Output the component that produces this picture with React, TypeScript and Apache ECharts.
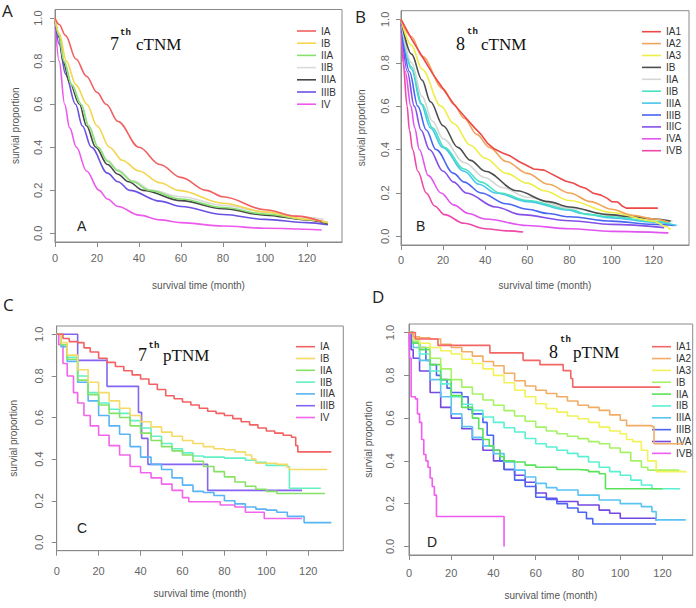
import React, { useEffect, useRef } from "react";
import * as echarts from "echarts";

type Pt = [number, number];

// ---------- shared ticks ----------
const xTicks = [0, 20, 40, 60, 80, 100, 120];
const yTicks = [0, 0.2, 0.4, 0.6, 0.8, 1.0];
const xAxisTitle = "survival time (month)";
const yAxisTitle = "survial proportion";

// ---------- Panel A: 7th cTNM ----------
const namesA = ["IA", "IB", "IIA", "IIB", "IIIA", "IIIB", "IV"];
const A_IA: Pt[] = [[0, 1], [2, 0.97], [5, 0.92], [10, 0.81], [15, 0.73], [20, 0.655], [24.4, 0.6], [30, 0.52], [40, 0.4], [50, 0.32], [60, 0.26], [72, 0.2], [80, 0.17], [100, 0.11], [115, 0.08], [127, 0.055]];
const A_IB: Pt[] = [[0, 1], [2, 0.93], [5.4, 0.8], [10, 0.69], [15.2, 0.6], [20, 0.5], [26, 0.4], [32, 0.34], [40, 0.29], [50, 0.235], [59, 0.2], [80, 0.14], [100, 0.1], [120, 0.065], [130, 0.05]];
const A_IIA: Pt[] = [[0, 1], [2, 0.92], [4.3, 0.8], [8, 0.69], [12.5, 0.6], [16, 0.5], [20.5, 0.4], [25, 0.335], [30, 0.29], [37, 0.24], [45, 0.2], [60, 0.16], [80, 0.12], [100, 0.09], [120, 0.065], [130, 0.05]];
const A_IIB: Pt[] = [[0, 1], [2, 0.92], [4.3, 0.8], [8, 0.69], [12.3, 0.6], [16, 0.5], [20.5, 0.4], [25, 0.34], [30, 0.295], [37, 0.245], [46, 0.2], [60, 0.17], [80, 0.13], [100, 0.1], [120, 0.075], [128, 0.065]];
const A_IIIA: Pt[] = [[0, 1], [2, 0.91], [3.8, 0.8], [7, 0.7], [11.7, 0.6], [15, 0.5], [19.4, 0.4], [25, 0.32], [30, 0.275], [35, 0.24], [42, 0.2], [60, 0.152], [80, 0.115], [100, 0.085], [120, 0.062], [130, 0.045]];
const A_IIIB: Pt[] = [[0, 1], [2, 0.88], [5, 0.74], [9.8, 0.6], [13, 0.5], [17.3, 0.4], [25, 0.28], [30, 0.24], [35.6, 0.2], [50, 0.15], [60, 0.125], [80, 0.088], [100, 0.065], [120, 0.05], [130, 0.04]];
const A_IV: Pt[] = [[0, 1], [2, 0.8], [4.6, 0.6], [7, 0.49], [10.2, 0.4], [15, 0.29], [21, 0.2], [25, 0.16], [30, 0.125], [40, 0.085], [50, 0.063], [60, 0.05], [80, 0.034], [100, 0.024], [127, 0.016]];
const dataA = [A_IA, A_IB, A_IIA, A_IIB, A_IIIA, A_IIIB, A_IV];
const colorsA = ["#F26060", "#F3D54E", "#86E26E", "#DADADA", "#474747", "#6B52E2", "#EE58EC"];

// ---------- Panel B: 8th cTNM ----------
const namesB = ["IA1", "IA2", "IA3", "IB", "IIA", "IIB", "IIIA", "IIIB", "IIIC", "IVA", "IVB"];
const B_IA1: Pt[] = [[0, 1], [5, 0.91], [10, 0.83], [15, 0.75], [20, 0.68], [25, 0.61], [30, 0.555], [35, 0.5], [38, 0.47], [41, 0.43], [44, 0.405], [48, 0.385], [52, 0.37], [56, 0.345], [60, 0.325], [63, 0.31], [68, 0.305], [71, 0.29], [75, 0.27], [78, 0.255], [82, 0.245], [85, 0.23], [88, 0.22], [91, 0.2], [95, 0.19], [98, 0.175], [100, 0.16], [103, 0.158], [105, 0.14], [107, 0.13], [122, 0.13]];
const B_IA2: Pt[] = [[0, 1], [5, 0.92], [10, 0.83], [20, 0.68], [25, 0.61], [30, 0.545], [36, 0.47], [42, 0.41], [50, 0.345], [60, 0.29], [70, 0.24], [80, 0.2], [90, 0.16], [100, 0.125], [110, 0.097], [120, 0.08], [127, 0.065]];
const B_IA3: Pt[] = [[0, 1], [5, 0.88], [10, 0.77], [19, 0.6], [25, 0.52], [33, 0.42], [40, 0.36], [50, 0.29], [60, 0.245], [68, 0.21], [80, 0.165], [100, 0.11], [120, 0.07], [126, 0.045], [128, 0.03]];
const B_IB: Pt[] = [[0, 1], [5, 0.84], [10, 0.72], [14, 0.62], [20, 0.51], [27, 0.41], [33, 0.35], [40, 0.3], [55, 0.21], [70, 0.16], [80, 0.135], [98, 0.1], [110, 0.09], [120, 0.08], [128, 0.07]];
const B_IIA: Pt[] = [[0, 1], [5, 0.8], [10, 0.645], [15, 0.53], [20, 0.45], [30, 0.34], [40, 0.27], [48, 0.225], [60, 0.18], [80, 0.13], [100, 0.1], [120, 0.08], [129, 0.07]];
const B_IIB: Pt[] = [[0, 1], [5, 0.78], [10, 0.61], [15, 0.5], [20.6, 0.41], [30, 0.31], [38, 0.25], [47, 0.2], [60, 0.165], [80, 0.125], [89, 0.1], [100, 0.09], [120, 0.07], [128, 0.06]];
const B_IIIA: Pt[] = [[0, 1], [5, 0.77], [9.5, 0.61], [14, 0.5], [19.8, 0.41], [30, 0.3], [37, 0.24], [45, 0.2], [60, 0.16], [80, 0.12], [86, 0.105], [100, 0.085], [120, 0.065], [131, 0.05]];
const B_IIIB: Pt[] = [[0, 1], [4, 0.76], [8, 0.6], [12, 0.49], [16.6, 0.4], [25, 0.29], [30, 0.25], [38, 0.2], [50, 0.15], [60, 0.125], [70, 0.105], [80, 0.09], [100, 0.07], [120, 0.055], [130, 0.05]];
const B_IIIC: Pt[] = [[0, 1], [3, 0.76], [6.3, 0.6], [9.5, 0.49], [13.5, 0.4], [20, 0.3], [25, 0.25], [31, 0.2], [45, 0.135], [57, 0.1], [80, 0.072], [100, 0.055], [125, 0.04]];
const B_IVA: Pt[] = [[0, 1], [2, 0.76], [4.7, 0.6], [6.5, 0.5], [8.7, 0.4], [13, 0.28], [19, 0.2], [25, 0.145], [32, 0.105], [40, 0.08], [60, 0.05], [80, 0.035], [100, 0.023], [127, 0.016]];
const B_IVB: Pt[] = [[0, 1], [1, 0.8], [2.9, 0.6], [4, 0.49], [5.5, 0.4], [8, 0.3], [12, 0.2], [16, 0.14], [20.6, 0.1], [30, 0.06], [40, 0.035], [50, 0.025], [58, 0.02]];
const dataB = [B_IA1, B_IA2, B_IA3, B_IB, B_IIA, B_IIB, B_IIIA, B_IIIB, B_IIIC, B_IVA, B_IVB];
const colorsB = ["#EE4848", "#F0A45A", "#EEEE48", "#4E4E4E", "#D6D6D6", "#48E2C2", "#48C6EC", "#4866F0", "#8450E8", "#E254F0", "#EE48A8"];

// ---------- Panel C: 7th pTNM ----------
const namesC = ["IA", "IB", "IIA", "IIB", "IIIA", "IIIB", "IV"];
const C_IA: Pt[] = [[0, 1], [3, 0.98], [6, 0.965], [10, 0.96], [13, 0.935], [16, 0.915], [20, 0.885], [24, 0.865], [28, 0.845], [32, 0.825], [36, 0.805], [40, 0.785], [44, 0.76], [48, 0.735], [52, 0.705], [56, 0.69], [60, 0.675], [64, 0.66], [68, 0.645], [72, 0.63], [76, 0.62], [80, 0.61], [84, 0.595], [88, 0.58], [92, 0.565], [96, 0.55], [100, 0.535], [104, 0.525], [108, 0.515], [112, 0.505], [114, 0.465], [115, 0.435], [131, 0.435]];
const C_IB: Pt[] = [[0, 1], [2, 0.96], [5, 0.9], [10, 0.83], [15, 0.77], [20, 0.72], [25, 0.68], [30, 0.645], [35, 0.61], [40, 0.58], [45, 0.555], [50, 0.53], [55, 0.51], [60, 0.49], [65, 0.475], [70, 0.46], [75, 0.45], [80, 0.445], [85, 0.435], [90, 0.42], [93, 0.4], [95, 0.38], [105, 0.375], [110, 0.36], [111, 0.35], [129, 0.35]];
const C_IIA: Pt[] = [[0, 1], [2, 0.95], [5, 0.88], [10, 0.78], [15, 0.71], [20, 0.66], [25, 0.62], [30, 0.6], [35, 0.56], [40, 0.525], [45, 0.49], [50, 0.46], [55, 0.44], [60, 0.42], [65, 0.39], [70, 0.365], [75, 0.34], [80, 0.315], [85, 0.29], [90, 0.27], [95, 0.255], [100, 0.245], [105, 0.235], [128, 0.235]];
const C_IIB: Pt[] = [[0, 1], [2, 0.95], [5, 0.89], [10, 0.8], [15, 0.72], [20, 0.67], [25, 0.64], [30, 0.62], [35, 0.585], [40, 0.55], [45, 0.51], [50, 0.475], [55, 0.45], [60, 0.43], [65, 0.415], [70, 0.41], [80, 0.405], [90, 0.395], [95, 0.385], [100, 0.37], [110, 0.365], [111, 0.26], [126, 0.26]];
const C_IIIA: Pt[] = [[0, 1], [2, 0.94], [5, 0.87], [10, 0.77], [15, 0.68], [20, 0.61], [25, 0.56], [30, 0.52], [35, 0.46], [40, 0.41], [45, 0.375], [50, 0.35], [55, 0.31], [60, 0.275], [65, 0.245], [70, 0.24], [75, 0.225], [80, 0.2], [85, 0.185], [90, 0.17], [95, 0.16], [100, 0.155], [105, 0.145], [110, 0.125], [118, 0.095], [131, 0.095]];
const C_IIIB: Pt[] = [[0, 1], [10, 0.875], [24, 0.75], [39, 0.625], [40.5, 0.5], [43.5, 0.375], [72, 0.25], [117, 0.25]];
const C_IV: Pt[] = [[0, 1], [1, 0.95], [3, 0.86], [5, 0.8], [8, 0.72], [10, 0.67], [13, 0.61], [16, 0.56], [20, 0.515], [25, 0.465], [30, 0.42], [35, 0.365], [40, 0.335], [45, 0.31], [50, 0.28], [55, 0.25], [60, 0.215], [63, 0.195], [75, 0.195], [78, 0.18], [85, 0.17], [90, 0.145], [99, 0.115], [117, 0.115]];
const dataC = [C_IA, C_IB, C_IIA, C_IIB, C_IIIA, C_IIIB, C_IV];
const colorsC = ["#F26262", "#F5DA66", "#86E266", "#64F0C6", "#58B4F2", "#8464F0", "#F264EA"];

// ---------- Panel D: 8th pTNM ----------
const namesD = ["IA1", "IA2", "IA3", "IB", "IIA", "IIB", "IIIA", "IIIB", "IVA", "IVB"];
const D_IA1: Pt[] = [[0, 1], [3, 0.97], [13.7, 0.94], [38.3, 0.905], [54, 0.87], [62, 0.85], [73, 0.822], [76.6, 0.785], [77.5, 0.745], [119, 0.745]];
const D_IA2: Pt[] = [[0, 1], [2, 0.98], [5, 0.975], [10, 0.97], [15, 0.945], [20, 0.93], [25, 0.91], [30, 0.89], [35, 0.865], [40, 0.845], [45, 0.81], [50, 0.775], [55, 0.75], [60, 0.73], [65, 0.715], [70, 0.7], [75, 0.68], [80, 0.66], [85, 0.65], [90, 0.636], [95, 0.615], [100, 0.59], [103, 0.565], [115, 0.56], [116, 0.48], [130, 0.48]];
const D_IA3: Pt[] = [[0, 1], [2, 0.97], [5, 0.95], [10, 0.93], [15, 0.915], [20, 0.9], [25, 0.875], [30, 0.855], [35, 0.83], [40, 0.8], [45, 0.765], [50, 0.73], [55, 0.7], [60, 0.667], [65, 0.645], [70, 0.628], [75, 0.61], [80, 0.597], [85, 0.58], [90, 0.558], [95, 0.54], [100, 0.527], [103, 0.5], [106, 0.49], [110, 0.45], [113, 0.4], [117, 0.35], [131, 0.345]];
const D_IB: Pt[] = [[0, 1], [2, 0.96], [5, 0.93], [10, 0.88], [15, 0.83], [20, 0.78], [25, 0.745], [30, 0.713], [35, 0.685], [40, 0.66], [45, 0.635], [50, 0.61], [55, 0.585], [60, 0.558], [65, 0.54], [70, 0.527], [75, 0.515], [80, 0.504], [85, 0.49], [90, 0.48], [95, 0.46], [100, 0.44], [105, 0.4], [110, 0.37], [113, 0.357], [128, 0.357]];
const D_IIA: Pt[] = [[0, 1], [2, 0.95], [5, 0.92], [10, 0.85], [15, 0.78], [20, 0.705], [25, 0.65], [30, 0.6], [33, 0.55], [35, 0.5], [38, 0.47], [40, 0.45], [43, 0.42], [45, 0.4], [50, 0.395], [55, 0.38], [60, 0.37], [70, 0.36], [80, 0.357], [85, 0.35], [90, 0.34], [93, 0.27], [120, 0.27]];
const D_IIB: Pt[] = [[0, 1], [2, 0.95], [5, 0.9], [10, 0.82], [15, 0.76], [20, 0.7], [25, 0.665], [30, 0.636], [35, 0.605], [40, 0.58], [45, 0.555], [50, 0.535], [55, 0.505], [60, 0.48], [65, 0.465], [70, 0.45], [75, 0.435], [80, 0.42], [85, 0.395], [90, 0.37], [95, 0.35], [100, 0.333], [105, 0.31], [110, 0.287], [115, 0.27], [128, 0.265]];
const D_IIIA: Pt[] = [[0, 1], [2, 0.93], [5, 0.87], [10, 0.78], [15, 0.7], [20, 0.62], [25, 0.56], [30, 0.51], [35, 0.47], [40, 0.434], [45, 0.395], [50, 0.357], [55, 0.325], [60, 0.295], [65, 0.275], [70, 0.264], [80, 0.24], [90, 0.217], [100, 0.2], [110, 0.186], [115, 0.163], [117, 0.124], [131, 0.124]];
const D_IIIB: Pt[] = [[0, 1], [2, 0.95], [5, 0.93], [8, 0.87], [10, 0.85], [13, 0.8], [15, 0.78], [18, 0.74], [20, 0.72], [25, 0.7], [28, 0.64], [30, 0.62], [35, 0.58], [37, 0.52], [40, 0.45], [43, 0.4], [45, 0.36], [50, 0.31], [55, 0.28], [60, 0.23], [65, 0.22], [70, 0.2], [75, 0.18], [80, 0.16], [84, 0.13], [87, 0.105], [117, 0.105]];
const D_IVA: Pt[] = [[0, 1], [1, 0.92], [2, 0.88], [5, 0.82], [10, 0.72], [15, 0.65], [20, 0.6], [25, 0.55], [30, 0.5], [35, 0.45], [40, 0.4], [45, 0.36], [50, 0.333], [55, 0.3], [60, 0.25], [65, 0.225], [70, 0.21], [80, 0.194], [90, 0.17], [95, 0.155], [100, 0.132], [117, 0.12]];
const D_IVB: Pt[] = [[0, 1], [0.3, 0.88], [1, 0.7], [3, 0.69], [4, 0.62], [5, 0.58], [6, 0.5], [7, 0.43], [8, 0.4], [9, 0.37], [10, 0.32], [11, 0.28], [12, 0.24], [13, 0.14], [45, 0.14], [45, 0]];
const dataD = [D_IA1, D_IA2, D_IA3, D_IB, D_IIA, D_IIB, D_IIIA, D_IIIB, D_IVA, D_IVB];
const colorsD = ["#F26666", "#F2AC66", "#F2F25A", "#A6F266", "#5AE25A", "#5AF0D2", "#5AC4F2", "#4A66F0", "#7448E2", "#F25AF2"];

// ---------- layout ----------
interface Layout {
  key: string;
  left: number; top: number; width: number; height: number; xMax: number;
  xLabelMargin: number; yLabelMargin: number; xNameGap: number; yNameGap: number;
  legendLeft: number; legendTop: number; legendPitch: number;
  step: boolean;
}

const layouts: Layout[] = [
  { key: "A", left: 55, top: 9.5, width: 287, height: 232.5, xMax: 136.7, xLabelMargin: 10, yLabelMargin: 11.5, xNameGap: 38, yNameGap: 35, legendLeft: 297, legendTop: 26, legendPitch: 12.2, step: false },
  { key: "B", left: 401, top: 10.7, width: 288, height: 234.3, xMax: 136.8, xLabelMargin: 9.5, yLabelMargin: 10.5, xNameGap: 35, yNameGap: 35, legendLeft: 642, legendTop: 26.7, legendPitch: 11.9, step: false },
  { key: "C", left: 56.7, top: 326, width: 286.6, height: 224.7, xMax: 136.7, xLabelMargin: 14.5, yLabelMargin: 12, xNameGap: 37.3, yNameGap: 38.7, legendLeft: 296, legendTop: 341.7, legendPitch: 11.8, step: true },
  { key: "D", left: 409, top: 324, width: 283.7, height: 231, xMax: 134.3, xLabelMargin: 12.5, yLabelMargin: 13.8, xNameGap: 35, yNameGap: 35.3, legendLeft: 652, legendTop: 341.7, legendPitch: 11.85, step: true },
];

const panelNames = [namesA, namesB, namesC, namesD];
const panelData = [dataA, dataB, dataC, dataD];
const panelColors = [colorsA, colorsB, colorsC, colorsD];

const SANS = "Liberation Sans, Arial, sans-serif";
const SERIF = "Liberation Serif, Times New Roman, serif";
const AXIS_GRAY = "#8a8a8a";
const LABEL_GRAY = "#666";

function buildOption() {
  const grid: any[] = [];
  const xAxis: any[] = [];
  const yAxis: any[] = [];
  const series: any[] = [];
  const legend: any[] = [];

  layouts.forEach((L, gi) => {
    grid.push({
      left: L.left, top: L.top, width: L.width, height: L.height,
      show: true, borderColor: AXIS_GRAY, borderWidth: 1, backgroundColor: "transparent",
    });
    xAxis.push({
      gridIndex: gi, type: "value", min: 0, max: L.xMax,
      axisLine: { show: true, onZero: false, lineStyle: { color: AXIS_GRAY } },
      axisTick: { show: true, length: 5, customValues: xTicks, lineStyle: { color: AXIS_GRAY } },
      axisLabel: { customValues: xTicks, margin: L.xLabelMargin, color: LABEL_GRAY, fontSize: 11, fontFamily: SANS },
      splitLine: { show: false },
      name: xAxisTitle, nameLocation: "middle", nameGap: L.xNameGap,
      nameTextStyle: { color: "#555", fontSize: 10, fontFamily: SANS },
    });
    yAxis.push({
      gridIndex: gi, type: "value", min: -0.04, max: 1.04,
      axisLine: { show: true, onZero: false, lineStyle: { color: AXIS_GRAY } },
      axisTick: { show: true, length: 5, customValues: yTicks, lineStyle: { color: AXIS_GRAY } },
      axisLabel: {
        customValues: yTicks, margin: L.yLabelMargin, rotate: 90, align: "center", verticalAlign: "bottom",
        color: LABEL_GRAY, fontSize: 11, fontFamily: SANS,
        formatter: (v: number) => v.toFixed(1),
      },
      splitLine: { show: false },
      name: yAxisTitle, nameLocation: "middle", nameGap: L.yNameGap,
      nameTextStyle: { color: "#555", fontSize: 10, fontFamily: SANS },
    });
    const names = panelNames[gi];
    const legendData: string[] = [];
    names.forEach((n, si) => {
      const sname = L.key + "|" + n;
      legendData.push(sname);
      series.push({
        name: sname, type: "line", xAxisIndex: gi, yAxisIndex: gi,
        data: panelData[gi][si],
        symbol: "none", showSymbol: false,
        step: L.step ? "end" : false,
        smooth: L.step ? false : (L.key === "B" && si === 0 ? false : 0.35),
        smoothMonotone: "x",
        lineStyle: { color: panelColors[gi][si], width: 1.6 },
        itemStyle: { color: panelColors[gi][si] },
        emphasis: { disabled: true },
        z: 10 + (names.length - si),
      });
    });
    legend.push({
      data: legendData, orient: "vertical", left: L.legendLeft, top: L.legendTop,
      padding: 0, icon: "rect", itemWidth: 19, itemHeight: 1.6, itemGap: L.legendPitch - 10,
      selectedMode: false,
      formatter: (name: string) => name.split("|")[1],
      textStyle: { color: "#333", fontSize: 10, fontFamily: SANS, lineHeight: 10 },
    });
  });

  const titleTexts = [
    { num: "7", rest: "cTNM", nx: 110, sx: 120, rx: 136, base: 49, sbase: 35 },
    { num: "8", rest: "cTNM", nx: 456, sx: 467, rx: 481, base: 49, sbase: 34 },
    { num: "7", rest: "pTNM", nx: 138, sx: 148.5, rx: 163, base: 360, sbase: 348 },
    { num: "8", rest: "pTNM", nx: 549, sx: 560, rx: 573, base: 357, sbase: 342 },
  ];
  const graphic: any[] = [];
  titleTexts.forEach((t) => {
    graphic.push({ type: "text", x: t.nx, y: t.base + 4, z: 100, style: { text: t.num, fontSize: 18, fontFamily: SERIF, fill: "#111", verticalAlign: "bottom" } });
    graphic.push({ type: "text", x: t.sx, y: t.sbase + 2, z: 100, style: { text: "th", fontSize: 9, fontWeight: "bold", fontFamily: "Liberation Mono, monospace", fill: "#111", verticalAlign: "bottom" } });
    graphic.push({ type: "text", x: t.rx, y: t.base + 4, z: 100, style: { text: t.rest, fontSize: 17, fontFamily: SERIF, fill: "#111", verticalAlign: "bottom" } });
  });
  const outer = [
    { t: "A", x: 2, y: 2 }, { t: "B", x: 355, y: 8 }, { t: "C", x: 3, y: 296 }, { t: "D", x: 372, y: 288 },
  ];
  outer.forEach((o) => graphic.push({ type: "text", x: o.x, y: o.y, style: { text: o.t, fontSize: 17, fontFamily: "Open Sans, sans-serif", fill: "#222" } }));
  const inner = [
    { t: "A", x: 77, y: 219 }, { t: "B", x: 416, y: 219 }, { t: "C", x: 77, y: 521 }, { t: "D", x: 427, y: 535 },
  ];
  inner.forEach((o) => graphic.push({ type: "text", x: o.x, y: o.y, style: { text: o.t, fontSize: 14, fontFamily: SANS, fill: "#222" } }));

  return { animation: false, backgroundColor: "#fff", grid, xAxis, yAxis, series, legend, graphic };
}

export default function App() {
  const ref = useRef<HTMLDivElement>(null);
  useEffect(() => {
    if (!ref.current) return;
    const chart = echarts.init(ref.current, undefined, { renderer: "svg" });
    chart.setOption(buildOption() as any);
    return () => chart.dispose();
  }, []);
  return <div ref={ref} style={{ position: "absolute", left: 0, top: 0, width: 696, height: 608 }} />;
}
